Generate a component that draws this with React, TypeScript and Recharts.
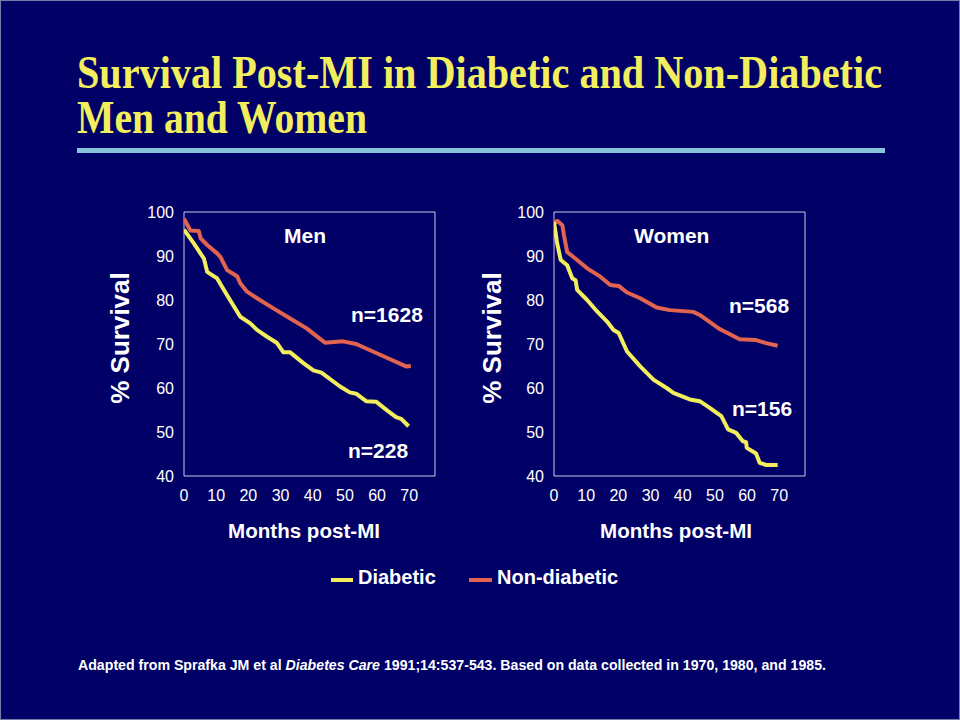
import { Line, LineChart, ReferenceArea, XAxis, YAxis } from 'recharts'

// Months after MI and % surviving
const menNonDiabeticMonths = [0, 2, 4.6, 5.2, 7.2, 10.3, 11.3, 13.4, 16.5, 17.5, 19.6, 22.7, 27.8, 33, 38, 43.8, 49.4, 53.5, 58.7, 63.9, 69, 70.5]
const menNonDiabeticSurvival = [98.5, 95.8, 95.7, 94, 92.5, 90.6, 89.8, 86.8, 85.4, 83.8, 81.9, 80.4, 78.1, 75.8, 73.6, 70.3, 70.6, 70, 68.3, 66.6, 64.9, 65]

const menDiabeticMonths = [0, 3.1, 6.2, 7.2, 10.3, 13.4, 17.5, 20.6, 22.7, 25.7, 28.8, 30.9, 33, 37, 40.2, 42.7, 48.4, 51.5, 53.5, 56.6, 59.7, 62.8, 65.9, 67.5, 69.8]
const menDiabeticSurvival = [96, 92.8, 89.4, 86.4, 84.9, 81.1, 76.2, 74.7, 73.2, 71.7, 70.3, 68.1, 68.1, 65.7, 64, 63.5, 60.4, 59, 58.7, 57, 56.9, 55.1, 53.4, 53, 51.3]

const womenNonDiabeticMonths = [0, 1, 2.6, 3.1, 4.1, 7.2, 10.3, 14.4, 17.5, 20.1, 22.7, 26.8, 31.9, 36, 43.3, 45.3, 51.5, 57.7, 62.8, 65.9, 69.5]
const womenNonDiabeticSurvival = [97.5, 98, 97, 94.7, 90.9, 89.1, 87.2, 85.3, 83.4, 83.2, 81.7, 80.4, 78.3, 77.7, 77.3, 76.6, 73.4, 71.1, 70.9, 70.2, 69.6]

const womenDiabeticMonths = [0, 1, 2.1, 4.1, 5.7, 6.7, 7.2, 10.3, 13.4, 16.5, 18.5, 20.1, 22.7, 26.8, 30.9, 35, 37.1, 42.2, 45.3, 48.4, 52, 54.1, 56.6, 58.7, 59.7, 59.9, 62.8, 63.9, 66, 69.5]
const womenDiabeticSurvival = [97.7, 92.8, 89.1, 87.9, 84.9, 84.5, 82.3, 80, 77.4, 75.1, 73.2, 72.5, 68.3, 64.9, 61.9, 60, 58.9, 57.4, 57, 55.5, 53.6, 50.6, 49.8, 47.9, 47.7, 46.4, 45.1, 43, 42.5, 42.5]

const monthTicks = [0, 10, 20, 30, 40, 50, 60, 70]
const survivalTicks = [40, 50, 60, 70, 80, 90, 100]

const BG = '#000066'
const YELLOW = '#f2ee5e'
const RED = '#e2644e'
const SANS = '"Liberation Sans", Arial, sans-serif'

const toPoints = (months: number[], survival: number[]) =>
  months.map((month, i) => ({ month, survival: survival[i] }))

function Panel({
  left,
  diabetic,
  nonDiabetic,
}: {
  left: number
  diabetic: { month: number; survival: number }[]
  nonDiabetic: { month: number; survival: number }[]
}) {
  const tick = { fill: '#ffffff', fontSize: 16, fontFamily: SANS }
  return (
    <div style={{ position: 'absolute', left, top: 190 }}>
      <LineChart
        width={330}
        height={340}
        margin={{ top: 21, right: 16, bottom: 15, left: 0 }}
      >
        <XAxis
          dataKey='month'
          type='number'
          domain={[0, 78]}
          ticks={monthTicks}
          tick={tick}
          tickLine={false}
          tickSize={0}
          tickMargin={14}
          axisLine={false}
          height={40}
          allowDataOverflow
        />
        <YAxis
          type='number'
          domain={[40, 100]}
          ticks={survivalTicks}
          tick={tick}
          tickLine={false}
          tickSize={0}
          tickMargin={10}
          axisLine={false}
          width={63}
        />
        <ReferenceArea
          x1={0}
          x2={78}
          y1={40}
          y2={100}
          fill='none'
          stroke='#c8c8e6'
          strokeWidth={1}
        />
        <Line
          data={nonDiabetic}
          dataKey='survival'
          type='linear'
          stroke={RED}
          strokeWidth={4}
          strokeLinejoin='round'
          dot={false}
          isAnimationActive={false}
        />
        <Line
          data={diabetic}
          dataKey='survival'
          type='linear'
          stroke={YELLOW}
          strokeWidth={4}
          strokeLinejoin='round'
          dot={false}
          isAnimationActive={false}
        />
      </LineChart>
    </div>
  )
}

export default function App() {
  const label = { fill: '#ffffff', fontFamily: SANS, fontWeight: 700 }
  // the slide title is set in a condensed serif: squeeze it horizontally
  const squeeze = 0.85
  return (
    <div
      style={{
        position: 'absolute',
        left: 0,
        top: 0,
        width: 960,
        height: 720,
        boxSizing: 'border-box',
        border: '1px solid #7a7aa6',
        background: BG,
        overflow: 'hidden',
      }}
    >
      <Panel
        left={120}
        diabetic={toPoints(menDiabeticMonths, menDiabeticSurvival)}
        nonDiabetic={toPoints(menNonDiabeticMonths, menNonDiabeticSurvival)}
      />
      <Panel
        left={490}
        diabetic={toPoints(womenDiabeticMonths, womenDiabeticSurvival)}
        nonDiabetic={toPoints(womenNonDiabeticMonths, womenNonDiabeticSurvival)}
      />

      <svg
        width={960}
        height={720}
        style={{ position: 'absolute', left: -1, top: -1, pointerEvents: 'none' }}
      >
        {/* title */}
        <g fill={YELLOW} fontFamily='"Liberation Serif", "Times New Roman", serif' fontWeight={700} fontSize={46}>
          <text
            transform={`translate(77 88) scale(${squeeze} 1)`}
            textLength={805 / squeeze}
            lengthAdjust='spacingAndGlyphs'
          >
            Survival Post-MI in Diabetic and Non-Diabetic
          </text>
          <text
            transform={`translate(77 133) scale(${squeeze} 1)`}
            textLength={290 / squeeze}
            lengthAdjust='spacingAndGlyphs'
          >
            Men and Women
          </text>
        </g>
        <rect x={77} y={148} width={808} height={5} fill='#86c4da' />

        {/* axis titles */}
        <text {...label} fontSize={26} textAnchor='middle' transform='translate(129 338) rotate(-90)'>
          % Survival
        </text>
        <text {...label} fontSize={26} textAnchor='middle' transform='translate(501 338) rotate(-90)'>
          % Survival
        </text>
        <text {...label} fontSize={20} x={228} y={538} textLength={152} lengthAdjust='spacingAndGlyphs'>
          Months post-MI
        </text>
        <text {...label} fontSize={20} x={600} y={538} textLength={152} lengthAdjust='spacingAndGlyphs'>
          Months post-MI
        </text>

        {/* panel annotations */}
        <text {...label} fontSize={21} x={284} y={243}>Men</text>
        <text {...label} fontSize={21} x={351} y={322}>n=1628</text>
        <text {...label} fontSize={21} x={348} y={458}>n=228</text>
        <text {...label} fontSize={21} x={634} y={243}>Women</text>
        <text {...label} fontSize={21} x={729} y={313}>n=568</text>
        <text {...label} fontSize={21} x={732} y={416}>n=156</text>

        {/* legend */}
        <line x1={331} x2={353} y1={580} y2={580} stroke={YELLOW} strokeWidth={4} />
        <text {...label} fontSize={20} x={358} y={584}>Diabetic</text>
        <line x1={469} x2={492} y1={580} y2={580} stroke={RED} strokeWidth={4} />
        <text {...label} fontSize={20} x={497} y={584}>Non-diabetic</text>

        {/* source note */}
        <text {...label} fontSize={14} x={78} y={670} textLength={748} lengthAdjust='spacingAndGlyphs'>
          Adapted from Sprafka JM et al <tspan fontStyle='italic'>Diabetes Care</tspan> 1991;14:537-543. Based on data collected in 1970, 1980, and 1985.
        </text>
      </svg>
    </div>
  )
}
